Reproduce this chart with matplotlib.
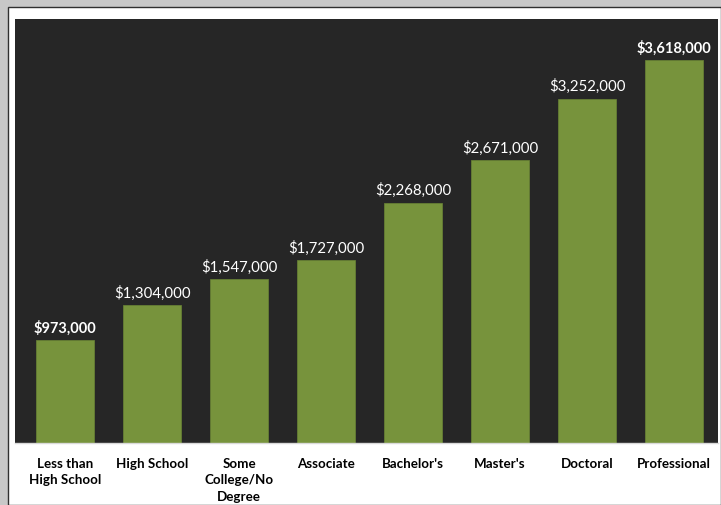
import matplotlib
matplotlib.use("Agg")
import matplotlib.pyplot as plt
from matplotlib.patches import Rectangle

categories = ["Less than\nHigh School", "High School", "Some\nCollege/No\nDegree", "Associate",
              "Bachelor's", "Master's", "Doctoral", "Professional"]
values = [973000, 1304000, 1547000, 1727000, 2268000, 2671000, 3252000, 3618000]
bold_labels = [True, False, False, False, False, False, False, True]

plt.rcParams['font.family'] = ['Lato', 'DejaVu Sans']

W, H = 721, 506
fig = plt.figure(figsize=(W / 100, H / 100), dpi=100)
fig.patch.set_facecolor("#c8c8c8")

# background frame axes (white card with thin dark border)
bg = fig.add_axes([0, 0, 1, 1], zorder=-1)
bg.set_xlim(0, W)
bg.set_ylim(H, 0)
bg.axis("off")
bg.add_patch(Rectangle((8, 8), W - 8, H - 8, facecolor="white", edgecolor="#303030", linewidth=1.0))

ax = fig.add_axes([15 / W, (H - 444) / H, 703 / W, 424 / H], zorder=1)
ax.set_facecolor("#262626")
x = range(len(categories))
ax.bar(x, values, width=0.667, color="#77933C", edgecolor="#6a8535", linewidth=0.5, zorder=2)
ax.set_xlim(-0.575, 7.505)
ax.set_ylim(0, 4005000)

for i, v in enumerate(values):
    b = bold_labels[i]
    ax.annotate(f"${v:,.0f}", (i, v), xytext=(0, 4), textcoords="offset points",
                ha="center", va="bottom", color="white", fontsize=10.5 if b else 10.8,
                fontweight="bold" if b else "normal")

ax.set_xticks(list(x))
ax.set_xticklabels(categories, fontsize=9.6, fontweight="bold", color="black", linespacing=1.45)
ax.tick_params(axis="x", length=0, pad=10)
ax.set_yticks([])
for s in ax.spines.values():
    s.set_visible(False)
ax.spines["bottom"].set_visible(True)
ax.spines["bottom"].set_color("#d9d9d9")
ax.spines["bottom"].set_linewidth(1)

fig.savefig("out.png", dpi=100, facecolor=fig.get_facecolor())
